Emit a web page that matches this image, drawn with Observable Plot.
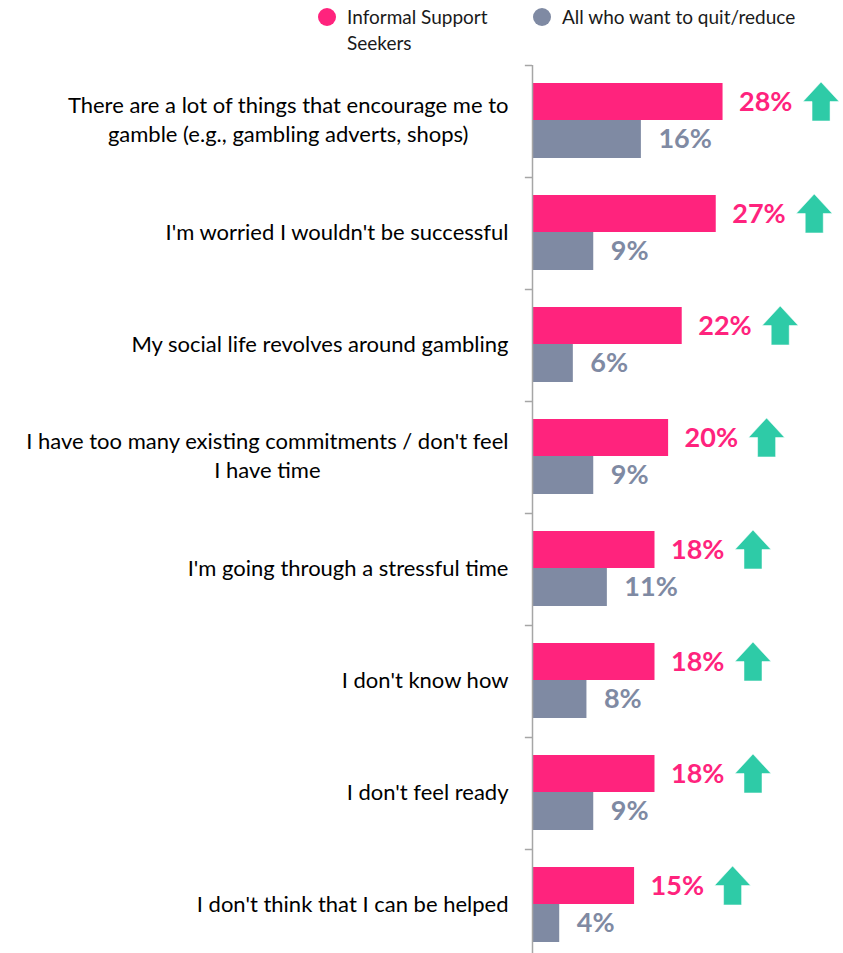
<!DOCTYPE html>
<html><head><meta charset="utf-8">
<script src="https://cdn.jsdelivr.net/npm/d3@7"></script>
<script src="https://cdn.jsdelivr.net/npm/@observablehq/plot@0.6"></script>
<style>
html,body{margin:0;padding:0;background:#fff;overflow:hidden;width:843px;height:953px;}
#wrap{position:relative;width:843px;height:953px;font-family:Lato,sans-serif;}
.leg{position:absolute;font-size:19px;line-height:26px;color:#1a1a1a;}
.sw{position:absolute;width:18px;height:18px;border-radius:50%;}
#chart{position:absolute;left:0;top:0;}
</style></head><body>
<div id="wrap">
 <div class="sw" style="left:318px;top:8px;background:#FF237D"></div>
 <div class="leg" style="left:347px;top:4px">Informal Support<br>Seekers</div>
 <div class="sw" style="left:533px;top:8px;background:#7F8AA3"></div>
 <div class="leg" style="left:562px;top:4px">All who want to quit/reduce</div>
 <div id="chart"></div>
</div>
<script>
const categories = [
  "There are a lot of things that encourage me to\ngamble (e.g., gambling adverts, shops)",
  "I'm worried I wouldn't be successful",
  "My social life revolves around gambling",
  "I have too many existing commitments / don't feel\nI have time",
  "I'm going through a stressful time",
  "I don't know how",
  "I don't feel ready",
  "I don't think that I can be helped"
];
const seekers = [28, 27, 22, 20, 18, 18, 18, 15];
const allQuit = [16, 9, 6, 9, 11, 8, 9, 4];
const seriesNames = ["Informal Support Seekers", "All who want to quit/reduce"];

const PINK = "#FF237D", GRAY = "#7F8AA3", TEAL = "#2ECBA7", AXIS = "#A6A6A6";

const rows = categories.map((c, i) => ({category: c, seekers: seekers[i], all: allQuit[i]}));

const arrow = {
  draw(ctx, size) {
    const r = Math.sqrt(size / Math.PI);
    const hw = r, sw = r * 0.5, top = -r * 1.08, mid = 0, bot = r * 1.08;
    ctx.moveTo(0, top); ctx.lineTo(hw, mid); ctx.lineTo(sw, mid); ctx.lineTo(sw, bot);
    ctx.lineTo(-sw, bot); ctx.lineTo(-sw, mid); ctx.lineTo(-hw, mid); ctx.closePath();
  }
};

const chart = Plot.plot({
  width: 843, height: 961,
  marginLeft: 532, marginRight: 0, marginTop: 65, marginBottom: 0,
  x: {domain: [0, 45.7], axis: null},
  y: {domain: categories, padding: 0, axis: null},
  style: {fontFamily: "Lato, sans-serif", fontSize: "22px", color: "#000", background: "transparent", overflow: "visible"},
  marks: [
    Plot.axisY({tickSize: 0, tickPadding: 24, dy: -3, lineHeight: 1.3, label: null, fill: "#000", fontSize: 22}),
    Plot.barX(rows, {y: "category", x: "seekers", fill: PINK, insetTop: 18, insetBottom: 57}),
    Plot.barX(rows, {y: "category", x: "all", fill: GRAY, insetTop: 55, insetBottom: 19}),
    Plot.text(rows, {y: "category", x: "seekers", text: d => d.seekers + "%", dx: 16, dy: -19.5, textAnchor: "start", fill: PINK, fontSize: 27, fontWeight: "bold"}),
    Plot.text(rows, {y: "category", x: "all", text: d => d.all + "%", dx: 17, dy: 18, textAnchor: "start", fill: GRAY, fontSize: 27, fontWeight: "bold"}),
    Plot.dot(rows, {y: "category", x: "seekers", dx: 98, dy: -20, r: 18, symbol: arrow, fill: TEAL, stroke: "white", strokeWidth: 0.5}),
    Plot.ruleX([0], {stroke: AXIS, strokeWidth: 1.5}),
    Plot.ruleY(categories, {y: d => d, x1: -1.05, x2: 0, dy: -56, stroke: AXIS, strokeWidth: 1.5})
  ]
});
document.getElementById("chart").append(chart);
const svg = chart.tagName.toLowerCase() === "svg" ? chart : chart.querySelector("svg");
svg.querySelectorAll('g[aria-label="y-axis tick label"] text').forEach(t => {
  const tsp = t.querySelectorAll("tspan");
  if (tsp.length < 2) return;
  let maxW = 0;
  tsp.forEach(s => maxW = Math.max(maxW, s.getComputedTextLength()));
  t.setAttribute("text-anchor", "middle");
  tsp.forEach(s => s.setAttribute("x", -maxW / 2));
});
</script>
</body></html>
